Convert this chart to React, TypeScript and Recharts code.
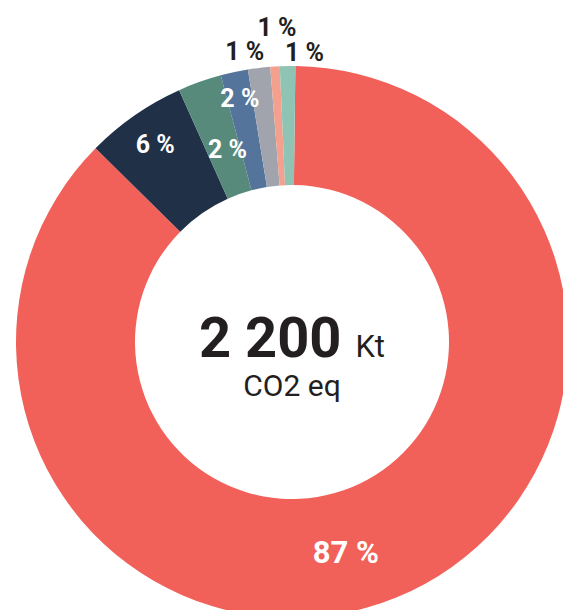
import React from 'react';
import { PieChart, Pie, Cell } from 'recharts';

// share of emissions by source (percent)
const sources = ['A', 'B', 'C', 'D', 'E', 'F', 'G'];
const shares = [87.2, 5.9, 2.55, 1.6, 1.3, 0.55, 0.9];
const shareLabels = ['87 %', '6 %', '2 %', '2 %', '1 %', '1 %', '1 %'];
const colors = ['#f2605a', '#1f3047', '#588a7c', '#55749b', '#a1a4ac', '#f4a08e', '#8fc3b4'];

// label placement: distance from centre and a small angle nudge per slice
const labelRadius = [217, 240, 203, 249, 294, 315, 290];
const labelNudge = [-8, 0, -1, 0, 2.4, -0.8, -3.4];
const labelInside = [true, true, true, true, false, false, false];

const totalValue = '2 200';
const totalUnit = 'Kt';
const totalSub = 'CO2 eq';

const data = sources.map((name, i) => ({ name, value: shares[i], label: shareLabels[i] }));

const RADIAN = Math.PI / 180;
const CX = 292;
const CY = 342;

const renderLabel = (props: any) => {
  const { cx, cy, midAngle, index } = props;
  const a = (midAngle + labelNudge[index]) * RADIAN;
  const r = labelRadius[index];
  const x = cx + r * Math.cos(-a);
  const y = cy + r * Math.sin(-a);
  return (
    <text
      x={x}
      y={y}
      textAnchor="middle"
      dominantBaseline="central"
      fill={labelInside[index] ? '#ffffff' : '#231f20'}
      fontFamily="Roboto, sans-serif"
      fontWeight={700}
      fontSize={index === 0 ? 31 : 25}
    >
      {shareLabels[index]}
    </text>
  );
};

const App = () => {
  return (
    <div style={{ position: 'absolute', left: 0, top: 0, width: 563, height: 610, overflow: 'hidden' }}>
      <PieChart width={563} height={610} margin={{ top: 0, right: 0, bottom: 0, left: 0 }}>
        <Pie
          data={data}
          dataKey="value"
          nameKey="name"
          cx={CX}
          cy={CY}
          innerRadius={157}
          outerRadius={276}
          startAngle={89.3}
          endAngle={-270.7}
          stroke="none"
          label={renderLabel}
          labelLine={false}
          isAnimationActive={false}
        >
          {data.map((d, i) => (
            <Cell key={d.name} fill={colors[i]} />
          ))}
        </Pie>
      </PieChart>
      <svg
        width={563}
        height={610}
        style={{ position: 'absolute', left: 0, top: 0, pointerEvents: 'none' }}
      >
        <text x={CX} y={357} textAnchor="middle" fill="#231f20" fontFamily="Roboto, sans-serif">
          <tspan fontWeight={700} fontSize={56}>{totalValue}</tspan>
          <tspan fontSize={31} dx={14}>{totalUnit}</tspan>
        </text>
        <text x={CX} y={396} textAnchor="middle" fill="#231f20" fontFamily="Roboto, sans-serif" fontSize={30}>
          {totalSub}
        </text>
      </svg>
    </div>
  );
};

export default App;
